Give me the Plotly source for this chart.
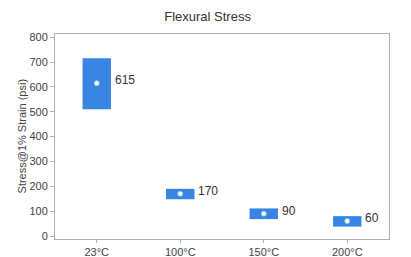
import plotly.graph_objects as go

categories = ["23°C", "100°C", "150°C", "200°C"]
low = [510, 148, 68, 38]
high = [715, 190, 111, 80]
mean = [615, 170, 90, 60]
labels = ["615", "170", "90", "60"]
y_title = "Stress@1% Strain (psi)"

fig = go.Figure()
fig.add_trace(go.Bar(
    x=categories, y=[h - l for h, l in zip(high, low)], base=low,
    width=0.34, marker=dict(color="#3784e3", line=dict(width=0)),
    hoverinfo="skip", showlegend=False))
fig.add_trace(go.Scatter(
    x=categories, y=mean, mode="markers",
    marker=dict(color="white", size=5, line=dict(color="#9cc0ee", width=1)),
    showlegend=False))
for c, m, t in zip(categories, mean, labels):
    fig.add_annotation(x=c, y=m, text=t, showarrow=False, xanchor="left",
                       xshift=16, yshift=3, font=dict(size=12, color="#333"))
fig.add_annotation(xref="paper", yref="paper", x=-0.099, y=0.5, text=y_title,
                   textangle=-90, showarrow=False, xanchor="center", yanchor="middle",
                   font=dict(size=11, color="#444"))

fig.update_layout(
    width=411, height=257,
    margin=dict(l=55, r=22, t=34, b=18),
    paper_bgcolor="white", plot_bgcolor="white",
    font=dict(family="Liberation Sans, Arial, sans-serif", size=11, color="#444"),
    title=dict(text="Flexural Stress", x=0.505, xanchor="center", y=0.935, yanchor="middle",
               font=dict(size=13, color="#333")),
    xaxis=dict(showline=True, linecolor="#b0b0b0", mirror=True, ticks="outside",
               ticklen=3, tickcolor="#b0b0b0", showgrid=False, automargin=False),
    yaxis=dict(range=[-12, 813], tickvals=list(range(0, 801, 100)), showline=True,
               linecolor="#b0b0b0", mirror=True, ticks="outside", ticklen=4,
               tickcolor="#b0b0b0", showgrid=False, zeroline=False, automargin=False),
)
fig.write_html("out.html", config={"displayModeBar": False},
               post_script="document.body.style.margin='0';document.body.style.overflow='hidden';")
